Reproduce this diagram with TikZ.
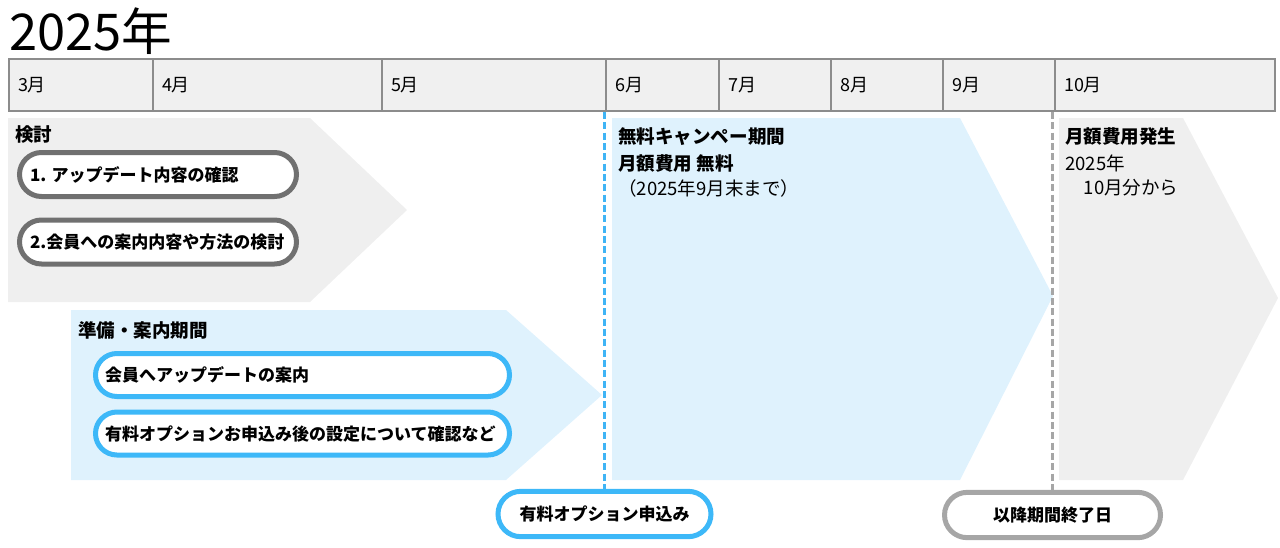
\documentclass[tikz,border=0pt]{standalone}
\usepackage{fontspec}
\setmainfont{Noto Sans CJK JP}
\definecolor{hdrfill}{HTML}{F0F0F0}
\definecolor{hdrline}{HTML}{8C8C8C}
\definecolor{grayfill}{HTML}{EFEFEF}
\definecolor{bluefill}{HTML}{DFF2FD}
\definecolor{blueline}{HTML}{3DB8F8}
\definecolor{darkpill}{HTML}{707070}
\definecolor{lightpill}{HTML}{A6A6A6}
\definecolor{bluedash}{HTML}{3FB4F5}
\definecolor{graydash}{HTML}{A6A6A6}
\tikzset{
  cell/.style={draw=hdrline, fill=hdrfill, line width=1.5pt, minimum height=39pt,
    inner xsep=6.75pt, inner ysep=0pt, align=left, anchor=north west,
    font=\fontsize{13.5}{16}\selectfont},
  pill/.style={line width=3.75pt, fill=white, inner sep=0pt,
    font=\bfseries\fontsize{12.75}{15}\selectfont},
  heading/.style={anchor=west, inner sep=0pt, font=\bfseries\fontsize{13.9}{16}\selectfont},
  plain/.style={anchor=west, inner sep=0pt, font=\fontsize{13.9}{16}\selectfont},
  vdash/.style={line width=2pt, dash pattern=on 5.25pt off 2.5pt}
}
\begin{document}
\begin{tikzpicture}[x=0.75pt,y=-0.75pt]
\useasboundingbox (0,0) rectangle (1280,547);
% title
\node[anchor=base west, inner sep=0pt, font=\fontsize{38}{40}\selectfont] (title) at (9,50) {2025年};
% header cells
\node[cell, text width=94.5pt]  (m3)  at (8,58)    {3月};
\node[cell, text width=158.25pt] (m4) at (152,58)  {4月};
\node[cell, text width=154.5pt] (m5)  at (381,58)  {5月};
\node[cell, text width=71.25pt] (m6)  at (605,58)  {6月};
\node[cell, text width=70.5pt]  (m7)  at (718,58)  {7月};
\node[cell, text width=70.5pt]  (m8)  at (830,58)  {8月};
\node[cell, text width=70.5pt]  (m9)  at (942,58)  {9月};
\node[cell, text width=151.5pt] (m10) at (1054,58) {10月};
% arrow bands
\fill[grayfill] (8,118) -- (310,118) -- (407,210) -- (310,302) -- (8,302) -- cycle;
\fill[bluefill] (71,310) -- (506,310) -- (602,395) -- (506,480) -- (71,480) -- cycle;
\fill[bluefill] (612,118) -- (960,118) -- (1053,296) -- (960,480) -- (612,480) -- cycle;
\fill[grayfill] (1059,118) -- (1183,118) -- (1278,298) -- (1183,480) -- (1059,480) -- cycle;
% headings
\node[heading] (kento) at (15,135) {検討};
\node[heading] (junbi) at (78,330) {準備・案内期間};
\node[heading] (c1) at (618,137) {無料キャンペー期間};
\node[heading] (c2) at (618,163) {月額費用 無料};
\node[plain]   (c3) at (618,188) {（2025年9月末まで）};
\node[heading] (g1) at (1065,137) {月額費用発生};
\node[plain]   (g2) at (1065,163) {2025年};
\node[plain]   (g3) at (1065,188) {　10月分から};
% pills
\node[pill, draw=darkpill, minimum width=207.75pt, minimum height=33pt, rounded corners=16.5pt] (p1) at (158,174.5)
  {\makebox[192pt][l]{1. アップデート内容の確認}};
\node[pill, draw=darkpill, minimum width=207.75pt, minimum height=33pt, rounded corners=16.5pt] (p2) at (158,242)
  {\makebox[192pt][l]{2.会員への案内内容や方法の検討}};
\node[pill, draw=blueline, minimum width=310.5pt, minimum height=32.25pt, rounded corners=16.1pt] (p3) at (302.5,375)
  {\makebox[296pt][l]{会員へアップデートの案内}};
\node[pill, draw=blueline, minimum width=310.5pt, minimum height=32.25pt, rounded corners=16.1pt] (p4) at (302.5,433.5)
  {\makebox[296pt][l]{有料オプションお申込み後の設定について確認など}};
\node[pill, draw=blueline, minimum width=159.75pt, minimum height=34pt, rounded corners=17pt] (opt) at (604.5,514)
  {有料オプション申込み};
\node[pill, draw=lightpill, minimum width=162pt, minimum height=34pt, rounded corners=17pt] (endp) at (1052.5,515)
  {以降期間終了日};
% dashed markers
\draw[vdash, draw=bluedash] (opt.north |- m6.south) -- (opt.north);
\draw[vdash, draw=graydash] (endp.north |- m10.south) -- (endp.north);
\end{tikzpicture}
\end{document}
